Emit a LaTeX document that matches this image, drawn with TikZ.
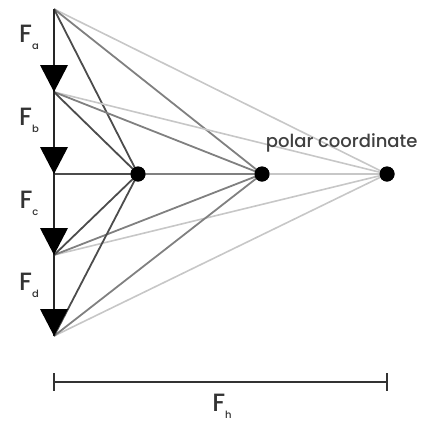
\documentclass[tikz,border=0pt]{standalone}
\usepackage{fontspec}
\setmainfont{Poppins}[UprightFont=* Medium]
\begin{document}
\begin{tikzpicture}[x=1pt,y=-1pt,
    pole/.style={circle,fill=black,inner sep=0pt,minimum size=15pt},
    force/.style={font=\fontsize{25}{27}\selectfont,anchor=center,text=black!80},
    headfill/.style={fill=black}]
    \useasboundingbox (0,0) rectangle (425,424);
    % points on the force polygon
    \coordinate (a) at (54,9);
    \coordinate (b) at (54,92);
    \coordinate (c) at (54,174);
    \coordinate (d) at (54,255);
    \coordinate (e) at (54,336);
    % three poles
    \node [pole] (p1) at (138,174) {};
    \node [pole] (p2) at (262,174) {};
    \node [pole] (p3) at (387,174) {};
    % rays
    \foreach \pt in {a,b,c,d,e} {
        \draw [black!22,line width=1.6pt] (\pt) -- (p3.center);
        \draw [black!50,line width=1.8pt] (\pt) -- (p2.center);
        \draw [black!70,line width=1.8pt] (\pt) -- (p1.center);
    }
    \draw [black!85,line width=2.4pt] (a) -- (e);
    % arrow heads
    \foreach \pt in {b,c,d,e}
        \fill [headfill] (\pt) -- ++(-14,-27) -- ++(28,0) -- cycle;
    \node [pole] at (p1) {};
    \node [pole] at (p2) {};
    \node [pole] at (p3) {};
    % labels
    \path (29,37) node [force] {F\raisebox{-7pt}{\fontsize{10}{10}\selectfont a}};
    \path (29,120) node [force] {F\raisebox{-7pt}{\fontsize{10}{10}\selectfont b}};
    \path (29,203) node [force] {F\raisebox{-7pt}{\fontsize{10}{10}\selectfont c}};
    \path (29,285) node [force] {F\raisebox{-7pt}{\fontsize{10}{10}\selectfont d}};
    \path (p3) ++(34,-31) node [anchor=east,font=\fontsize{18}{20}\selectfont,text=black!75] (polar) {polar coordinate};
    % horizontal distance
    \coordinate (h1) at (54,382);
    \coordinate (h2) at (387,382);
    \draw [black!80,line width=2.4pt] (h1) -- (h2);
    \draw [black!80,line width=2.4pt] (h1) ++(0,-9) -- ++(0,18);
    \draw [black!80,line width=2.4pt] (h2) ++(0,-9) -- ++(0,18);
    \path (222,406) node [force] (fh) {F\raisebox{-7pt}{\fontsize{10}{10}\selectfont h}};
\end{tikzpicture}
\end{document}
